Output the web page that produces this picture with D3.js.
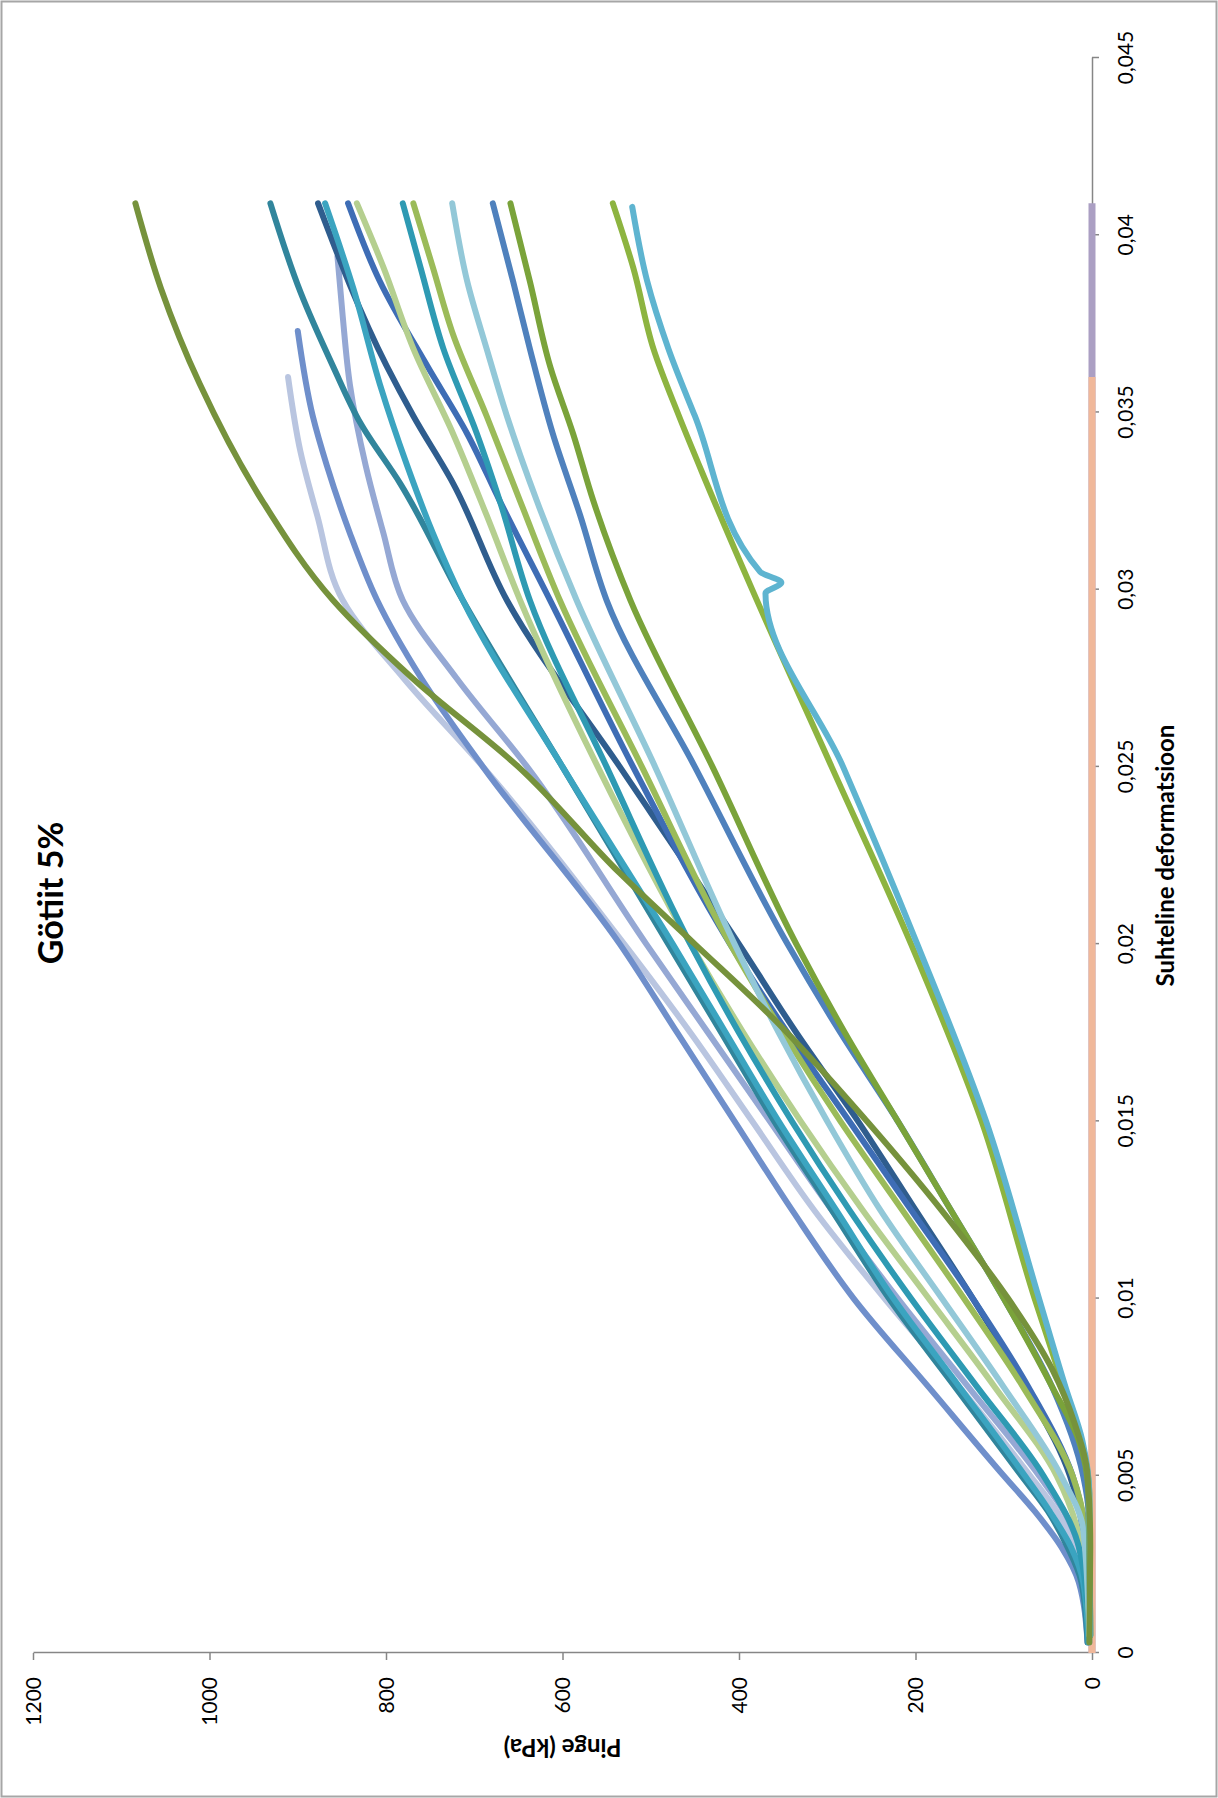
<!DOCTYPE html>
<html>
<head>
<meta charset="utf-8">
<script src="https://cdn.jsdelivr.net/npm/d3@7"></script>
<style>
  body { margin: 0; background: #fff; }
  svg text { font-family: Lato, "Open Sans", sans-serif; fill: #000; }
</style>
</head>
<body>
<svg id="chart" width="1218" height="1798"></svg>
<script>
// Götiit 5%: pinge vs suhteline deformatsioon, joonis on pööratud 90° vastupäeva.

const strainTicks = [0, 0.005, 0.01, 0.015, 0.02, 0.025, 0.03, 0.035, 0.04, 0.045];
const strainTickLabels = ['0', '0,005', '0,01', '0,015', '0,02', '0,025', '0,03', '0,035', '0,04', '0,045'];
const stressTicks = [0, 200, 400, 600, 800, 1000, 1200];

// kaks nullrida telje peal
const zeroOrange = [[0, 0], [0.036, 0]];
const zeroPurple = [[0, 0], [0.0409, 0]];

// mõõteread [deformatsioon, pinge kPa]
const s01 = [[0.0003, 3], [0.003, 2], [0.005, 5], [0.0065, 20], [0.008, 45], [0.01, 95], [0.012, 155], [0.015, 255], [0.018, 365], [0.02, 450], [0.022, 535], [0.025, 650], [0.0275, 770], [0.0297, 860], [0.0325, 940], [0.0358, 1011], [0.0385, 1055], [0.0409, 1084]];
const s02 = [[0.0003, 5], [0.002, 12], [0.003, 28], [0.004, 50], [0.005, 80], [0.0075, 155], [0.01, 230], [0.0125, 295], [0.015, 360], [0.0175, 420], [0.02, 480], [0.025, 600], [0.0297, 713], [0.033, 784], [0.0347, 829], [0.0363, 860], [0.0384, 897], [0.0409, 931]];
const s03 = [[0.0005, 3], [0.003, 8], [0.005, 25], [0.0075, 75], [0.01, 135], [0.0125, 200], [0.015, 265], [0.0175, 335], [0.02, 400], [0.025, 535], [0.0297, 663], [0.033, 724], [0.0349, 769], [0.0363, 799], [0.0409, 877]];
const s04 = [[0.0003, 4], [0.002, 10], [0.003, 24], [0.004, 48], [0.005, 76], [0.0075, 150], [0.01, 225], [0.0125, 290], [0.015, 355], [0.0175, 415], [0.02, 475], [0.025, 600], [0.0297, 713], [0.0316, 747], [0.0335, 776], [0.0358, 807], [0.0385, 837], [0.0409, 869]];
const s05 = [[0.0005, 3], [0.003, 6], [0.005, 22], [0.0075, 72], [0.01, 135], [0.0125, 205], [0.015, 275], [0.0175, 345], [0.02, 410], [0.025, 520], [0.0297, 614], [0.0325, 671], [0.0344, 708], [0.0363, 753], [0.0387, 807], [0.0409, 843]];
const s06 = [[0.0005, 3], [0.003, 12], [0.005, 40], [0.0075, 110], [0.01, 185], [0.0125, 260], [0.015, 330], [0.0175, 395], [0.02, 455], [0.025, 560], [0.0297, 648], [0.0321, 686], [0.0344, 724], [0.0368, 769], [0.0391, 803], [0.0409, 833]];
const s07 = [[0.0005, 3], [0.003, 15], [0.005, 55], [0.0075, 130], [0.01, 205], [0.0125, 275], [0.015, 340], [0.0175, 400], [0.02, 455], [0.025, 550], [0.0297, 637], [0.0325, 671], [0.0344, 697], [0.0368, 735], [0.0391, 761], [0.0409, 781]];
const s08 = [[0.0005, 3], [0.0035, 8], [0.005, 22], [0.0075, 78], [0.01, 145], [0.0125, 215], [0.015, 285], [0.0175, 350], [0.02, 410], [0.025, 510], [0.0297, 603], [0.0325, 648], [0.0349, 686], [0.0372, 724], [0.0391, 747], [0.0409, 769]];
const s09 = [[0.0005, 3], [0.0035, 10], [0.005, 35], [0.0075, 100], [0.01, 170], [0.0125, 240], [0.015, 300], [0.0175, 355], [0.02, 405], [0.025, 495], [0.0297, 584], [0.0325, 629], [0.0349, 663], [0.0368, 686], [0.0387, 708], [0.0409, 725]];
const s10 = [[0.0005, 2], [0.004, 4], [0.005, 10], [0.0075, 45], [0.01, 100], [0.0125, 160], [0.015, 220], [0.0175, 285], [0.02, 345], [0.025, 450], [0.0297, 550], [0.0321, 580], [0.0344, 611], [0.0368, 637], [0.0387, 656], [0.0409, 679]];
const s11 = [[0.0005, 2], [0.0045, 4], [0.006, 15], [0.0075, 45], [0.01, 100], [0.0125, 160], [0.015, 220], [0.0175, 280], [0.02, 335], [0.025, 430], [0.0297, 523], [0.0325, 565], [0.0344, 588], [0.0363, 614], [0.0387, 637], [0.0409, 659]];
const s12 = [[0.0005, 2], [0.0045, 3], [0.006, 12], [0.0075, 32], [0.01, 65], [0.015, 125], [0.02, 205], [0.025, 295], [0.03, 385], [0.0332, 440], [0.0349, 468], [0.0368, 497], [0.0391, 520], [0.0409, 543]];
const s13 = [[0.0005, 2], [0.0045, 3], [0.006, 11], [0.0075, 30], [0.01, 60], [0.015, 120], [0.02, 198], [0.025, 282], [0.0299, 370], [0.0302, 352], [0.0305, 376], [0.0349, 450], [0.0368, 480], [0.0387, 504], [0.0408, 521]];
const s14 = [[0.0003, 3], [0.0025, 10], [0.004, 32], [0.005, 60], [0.0075, 140], [0.01, 220], [0.0125, 295], [0.015, 365], [0.0175, 435], [0.02, 505], [0.025, 640], [0.0275, 720], [0.0297, 781], [0.0316, 803], [0.0335, 823], [0.0358, 841], [0.0377, 849], [0.0394, 855]];
const s15 = [[0.0003, 5], [0.002, 15], [0.003, 35], [0.004, 65], [0.005, 100], [0.0075, 185], [0.01, 270], [0.0125, 340], [0.015, 405], [0.0175, 470], [0.02, 535], [0.025, 690], [0.0275, 760], [0.0297, 810], [0.0316, 841], [0.0335, 867], [0.0349, 883], [0.0373, 900]];
const s16 = [[0.0003, 5], [0.002, 10], [0.003, 20], [0.004, 40], [0.005, 70], [0.0075, 150], [0.01, 235], [0.0125, 315], [0.015, 385], [0.0175, 455], [0.02, 530], [0.025, 690], [0.0275, 780], [0.0297, 849], [0.0321, 878], [0.0339, 897], [0.036, 911]];

const seriesValues = [s16, s14, s15, s02, s03, s04, s05, s06, s07, s08, s09, s10, s11, s12, s13, s01];
const seriesColors = ['#b9c5e0', '#95a8d4', '#6f8fcb', '#31859c', '#2f5d8e', '#3ba4c0', '#3e6db5', '#b5cf8f',
  '#2e9ab3', '#9bbb59', '#93c8d8', '#4f81bd', '#7aa33a', '#8db440', '#5eb4d0', '#76923c'];

const svg = d3.select('#chart');
const W = 1798; // pööramata laius

svg.append('rect')
  .attr('x', 1.5).attr('y', 1.5)
  .attr('width', 1215).attr('height', 1795)
  .attr('fill', '#fff')
  .attr('stroke', '#a6a6a6')
  .attr('stroke-width', 2);

// kogu joonis pööratakse
const g = svg.append('g').attr('transform', `translate(0,${W}) rotate(-90)`);

const x = d3.scaleLinear().domain([0, 0.045]).range([145, 1740]);
const y = d3.scaleLinear().domain([0, 1200]).range([1092, 33]);

const xAxis = d3.axisBottom(x)
  .tickValues(strainTicks)
  .tickFormat((d, i) => strainTickLabels[i])
  .tickSize(7)
  .tickSizeOuter(0);

const yAxis = d3.axisLeft(y)
  .tickValues(stressTicks)
  .tickFormat(d3.format('d'))
  .tickSize(7)
  .tickSizeOuter(0);

const gx = g.append('g')
  .attr('class', 'x-axis')
  .attr('transform', `translate(0,${y(0)})`)
  .call(xAxis);

const gy = g.append('g')
  .attr('class', 'y-axis')
  .attr('transform', `translate(${x(0)},0)`)
  .call(yAxis);

[gx, gy].forEach(ax => {
  ax.select('.domain').attr('stroke', '#868686').attr('stroke-width', 1.5);
  ax.selectAll('.tick line').attr('stroke', '#868686').attr('stroke-width', 1.5);
  ax.selectAll('.tick text')
    .attr('fill', '#000')
    .style('font-size', '21px')
    .style('font-family', 'Lato, "Open Sans", sans-serif');
});

gx.selectAll('.tick text').attr('y', 34).attr('dy', '0.35em');
gy.selectAll('.tick text').attr('x', -24).attr('dy', '0.35em');

const line = d3.line()
  .x(d => x(d[0]))
  .y(d => y(d[1]))
  .curve(d3.curveMonotoneX);

const plot = g.append('g').attr('class', 'series');

plot.append('path')
  .datum(zeroPurple)
  .attr('d', line)
  .attr('fill', 'none')
  .attr('stroke', '#ab9fc3')
  .attr('stroke-width', 7);

plot.append('path')
  .datum(zeroOrange)
  .attr('d', line)
  .attr('fill', 'none')
  .attr('stroke', '#f0b89a')
  .attr('stroke-width', 7);

plot.selectAll('.curve')
  .data(seriesValues)
  .join('path')
  .attr('class', 'curve')
  .attr('d', line)
  .attr('fill', 'none')
  .attr('stroke', (d, i) => seriesColors[i])
  .attr('stroke-width', 6)
  .attr('stroke-linejoin', 'round')
  .attr('stroke-linecap', 'round');

g.append('text')
  .attr('x', 905)
  .attr('y', 51)
  .attr('dy', '0.35em')
  .attr('text-anchor', 'middle')
  .style('font-size', '34px')
  .style('font-weight', 'bold')
  .text('Götiit 5%');

g.append('text')
  .attr('x', (x(0) + x(0.045)) / 2)
  .attr('y', 1166)
  .attr('dy', '0.35em')
  .attr('text-anchor', 'middle')
  .style('font-size', '24px')
  .style('font-weight', 'bold')
  .text('Suhteline deformatsioon');

g.append('text')
  .attr('transform', `translate(51,${(y(0) + y(1200)) / 2}) rotate(-90)`)
  .attr('dy', '0.35em')
  .attr('text-anchor', 'middle')
  .style('font-size', '24px')
  .style('font-weight', 'bold')
  .text('Pinge (kPa)');
</script>
</body>
</html>
